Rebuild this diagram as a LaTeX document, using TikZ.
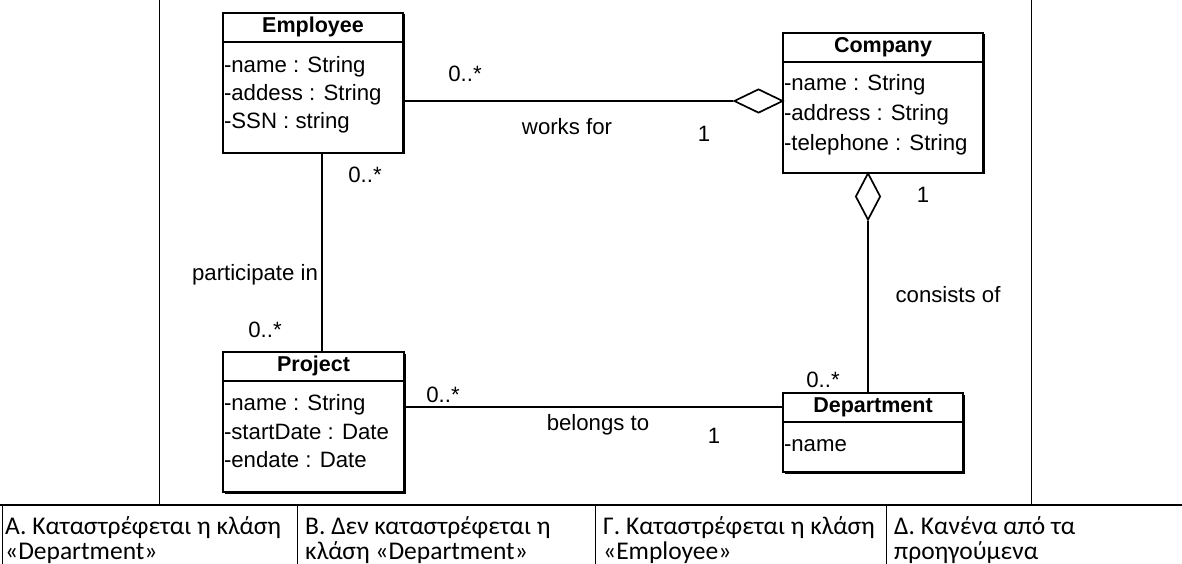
\documentclass[tikz,border=0pt]{standalone}
\usepackage{fontspec}
\setmainfont{Liberation Sans}
\newfontfamily\cellfont{Carlito}
\usetikzlibrary{shapes.geometric,shadows}

\begin{document}
\begin{tikzpicture}[x=1pt,y=-1pt,
  classbox/.style={draw, line width=2.3pt, fill=white, inner sep=0pt,
    general shadow={fill=black, shadow xshift=1.5pt, shadow yshift=-1.5pt}},
  ctitle/.style={inner sep=0pt, anchor=north, text height=15pt, text depth=5pt,
    font=\fontsize{21.5}{24}\selectfont\bfseries},
  attr/.style={anchor=base west, inner sep=0pt, font=\fontsize{22.2}{24}\selectfont},
  sep/.style={line width=1.8pt},
  assoc/.style={line width=1.7pt},
  lbl/.style={inner sep=0pt, font=\fontsize{22.2}{24}\selectfont},
  agg/.style={diamond, draw, line width=1.7pt, fill=white, inner sep=0pt},
  frame/.style={line width=1pt},
  rule/.style={line width=1.8pt},
  cell/.style={anchor=base west, inner sep=0pt, font=\cellfont\fontsize{25.5}{25}\selectfont}
]
\useasboundingbox (0,0) rectangle (1182,564);

% outer frame of the question cell
\draw[frame] (159,0) -- (159,505);
\draw[frame] (1031,0) -- (1031,505);

% classes
\node[classbox, minimum width=180pt, minimum height=140pt] (emp) at (313,83) {};
\node[ctitle, minimum width=180pt, minimum height=30pt] (empT) at (emp.north) {Employee};
\draw[sep] (empT.south west) -- (empT.south east);
\node[attr] (emp1) at ([xshift=1pt,yshift=-30pt]empT.south west) {-name : String};
\node[attr] (emp2) at ([xshift=1pt,yshift=-58pt]empT.south west) {-addess : String};
\node[attr] (emp3) at ([xshift=1pt,yshift=-86pt]empT.south west) {-SSN : string};

\node[classbox, minimum width=200pt, minimum height=140pt] (comp) at (883,103) {};
\node[ctitle, minimum width=200pt, minimum height=30pt] (compT) at (comp.north) {Company};
\draw[sep] (compT.south west) -- (compT.south east);
\node[attr] (comp1) at ([xshift=1pt,yshift=-28pt]compT.south west) {-name : String};
\node[attr] (comp2) at ([xshift=1pt,yshift=-58pt]compT.south west) {-address : String};
\node[attr] (comp3) at ([xshift=1pt,yshift=-88pt]compT.south west) {-telephone : String};

\node[classbox, minimum width=181pt, minimum height=140pt] (proj) at (313.5,422) {};
\node[ctitle, minimum width=181pt, minimum height=30pt] (projT) at (proj.north) {Project};
\draw[sep] (projT.south west) -- (projT.south east);
\node[attr] (proj1) at ([xshift=1pt,yshift=-29pt]projT.south west) {-name : String};
\node[attr] (proj2) at ([xshift=1pt,yshift=-58pt]projT.south west) {-startDate : Date};
\node[attr] (proj3) at ([xshift=1pt,yshift=-86pt]projT.south west) {-endate : Date};

\node[classbox, minimum width=180pt, minimum height=79pt] (dept) at (873,432.5) {};
\node[ctitle, minimum width=180pt, minimum height=30pt] (deptT) at (dept.north) {Department};
\draw[sep] (deptT.south west) -- (deptT.south east);
\node[attr] (dept1) at ([xshift=1pt,yshift=-29pt]deptT.south west) {-name};

% associations
\node[agg, minimum width=49pt, minimum height=24pt] (agg1) at (758.5,101) {};
\draw[assoc] (agg1.west) -- (agg1.west -| emp.east);
\node[agg, minimum width=25pt, minimum height=47pt] (agg2) at (868,196.5) {};
\draw[assoc] (agg2.south) -- (agg2.south |- dept.north);
\draw[assoc] ([xshift=9pt]emp.south) -- ([xshift=9pt]emp.south |- proj.north);
\draw[assoc] ([yshift=15pt]proj.east) -- ([yshift=15pt]proj.east -| dept.west);

% association labels and multiplicities
\node[lbl] (m1) at (465,74) {0..*};
\node[lbl] (wf) at (567,127) {works for};
\node[lbl] (m2) at (704,134) {1};
\node[lbl] (m3) at (365,175) {0..*};
\node[lbl] (pi) at (255,275) {participate in};
\node[lbl] (m4) at (265,330) {0..*};
\node[lbl] (m5) at (923,195) {1};
\node[lbl] (co) at (948,295) {consists of};
\node[lbl] (m6) at (823,380) {0..*};
\node[lbl] (m7) at (443,395) {0..*};
\node[lbl] (bt) at (598,425) {belongs to};
\node[lbl] (m8) at (714,436) {1};

% answer row
\draw[rule] (0,505) -- (1182,505);
\draw[frame] (2,505) -- (2,564);
\draw[frame] (297,505) -- (297,564);
\draw[frame] (595,505) -- (595,564);
\draw[frame] (886,505) -- (886,564);
\node[cell] (a1) at (5,534) {Α. Καταστρέφεται η κλάση};
\node[cell] (a2) at (5,559) {«Department»};
\node[cell] (b1) at (305,534) {Β. Δεν καταστρέφεται η};
\node[cell] (b2) at (305,559) {κλάση «Department»};
\node[cell] (c1) at (603,534) {Γ. Καταστρέφεται η κλάση};
\node[cell] (c2) at (603,559) {«Employee»};
\node[cell] (d1) at (894,534) {Δ. Κανένα από τα};
\node[cell] (d2) at (894,559) {προηγούμενα};
\end{tikzpicture}
\end{document}
